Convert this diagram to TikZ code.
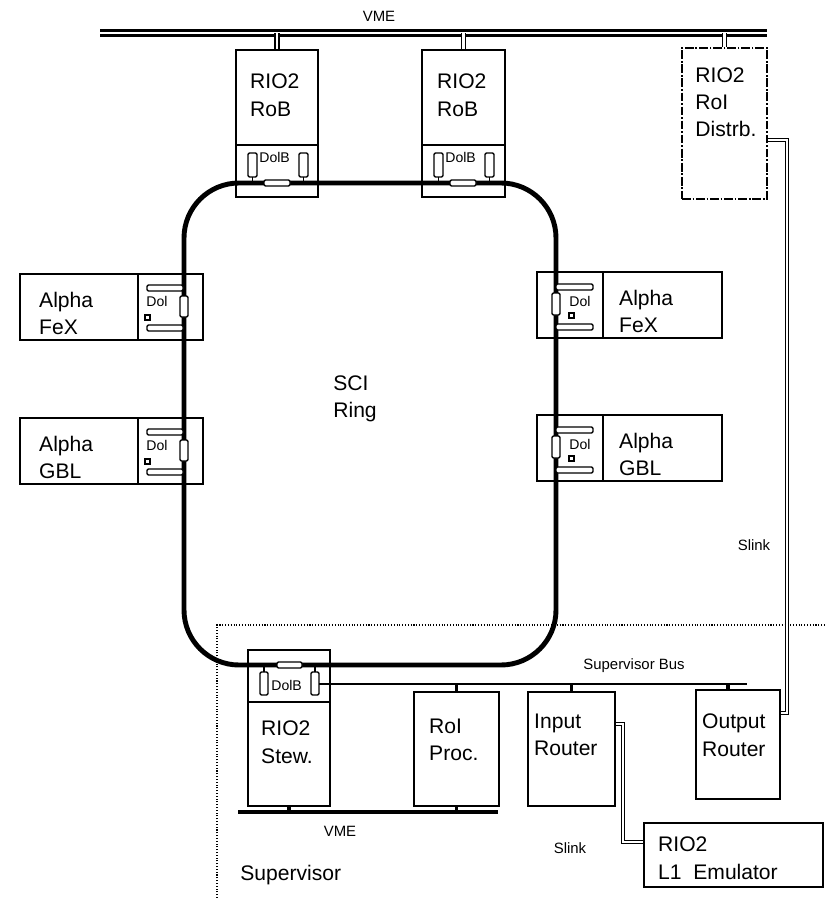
\documentclass[tikz,border=0pt]{standalone}
\usepackage{fontspec}
\setmainfont{Liberation Sans}

\begin{document}
\begin{tikzpicture}[x=0.02cm,y=-0.02cm,
  unit/.style={draw,line width=1.3pt,inner sep=0pt},
  tag/.style={anchor=north west,align=left,inner sep=0pt,font=\fontsize{12}{15.5}\selectfont},
  small/.style={inner sep=0pt,font=\fontsize{8.5}{10}\selectfont},
  tiny/.style={anchor=north west,inner sep=0pt,font=\fontsize{8}{9}\selectfont},
  ring/.style={line width=2.8pt,rounded corners=1.1cm},
  res/.style={draw,fill=white,line width=0.8pt,rounded corners=0.8pt},
  bus/.style={line width=1.3pt,double,double distance=1.6pt},
  tap/.style={line width=0.8pt,double,double distance=1.4pt},
  stub/.style={line width=2pt},
  slink/.style={line width=0.5pt,double,double distance=1.3pt},
  sbus/.style={line width=1.4pt}]
  \useasboundingbox (0,0) rectangle (826,898);

  % supervisor area
  \draw[densely dotted,line width=0.6pt] (217,898) -- (217,625) -- (826,625);

  % the SCI ring
  \draw[ring] (184,183) rectangle (556,665);
  \node[tag] (sci) at (333,375) {SCI\\Ring};

  % VME crate at the top
  \coordinate (vmeL) at (100,33);
  \coordinate (vmeR) at (767,33);
  \draw[bus] (vmeL) -- (vmeR);
  \node[small] (vmetop) at (379,16) {VME};

  \node[unit,minimum width=1.64cm,minimum height=1.9cm] (rob1) at (277,97.5) {};
  \node[unit,minimum width=1.64cm,minimum height=1.04cm] (rob1dol) at (277,171) {};
  \node[unit,minimum width=1.66cm,minimum height=1.9cm] (rob2) at (463.5,97.5) {};
  \node[unit,minimum width=1.66cm,minimum height=1.04cm] (rob2dol) at (463.5,171) {};
  \node[unit,dash pattern=on 5pt off 1pt on 1pt off 1pt,line width=1pt,
        minimum width=1.7cm,minimum height=3.02cm] (distrb) at (724.5,123.5) {};
  \node[tag] (rob1txt) at ([shift={(15,25)}]rob1.north west) {RIO2\\RoB};
  \node[tag] (rob2txt) at ([shift={(16,25)}]rob2.north west) {RIO2\\RoB};
  \node[tag] (distrbtxt) at ([shift={(14,20)}]distrb.north west) {RIO2\\RoI\\Distrb.};
  \draw[tap] (rob1.north) -- (rob1.north |- vmeL);
  \draw[tap] (rob2.north) -- (rob2.north |- vmeL);
  \draw[tap] (distrb.north) -- (distrb.north |- vmeL);

  % Alpha boxes
  \node[unit,minimum width=2.36cm,minimum height=1.32cm] (fexl) at (79,307) {};
  \node[unit,minimum width=1.3cm,minimum height=1.32cm] (fexldol) at (170.5,307) {};
  \node[unit,minimum width=2.36cm,minimum height=1.32cm] (gbll) at (79,451) {};
  \node[unit,minimum width=1.3cm,minimum height=1.32cm] (gblldol) at (170.5,451) {};
  \node[unit,minimum width=2.38cm,minimum height=1.32cm] (fexr) at (662.5,305) {};
  \node[unit,minimum width=1.32cm,minimum height=1.32cm] (fexrdol) at (570,305) {};
  \node[unit,minimum width=2.38cm,minimum height=1.32cm] (gblr) at (662.5,448) {};
  \node[unit,minimum width=1.32cm,minimum height=1.32cm] (gblrdol) at (570,448) {};
  \node[tag] (fexltxt) at ([shift={(20,19)}]fexl.north west) {Alpha\\FeX};
  \node[tag] (gblltxt) at ([shift={(20,19)}]gbll.north west) {Alpha\\GBL};
  \node[tag] (fexrtxt) at ([shift={(17,19)}]fexr.north west) {Alpha\\FeX};
  \node[tag] (gblrtxt) at ([shift={(17,19)}]gblr.north west) {Alpha\\GBL};

  % Dol interfaces, left side
  \foreach \dy in {0,144} {
    \draw[res] (147,285+\dy) rectangle (183,291+\dy);
    \draw[res] (147,325+\dy) rectangle (183,331+\dy);
    \draw[res] (180,296+\dy) rectangle (188,317+\dy);
    \draw[line width=0.6pt] (145,315+\dy) rectangle (150,320+\dy);
    \node[tiny] (doll\dy) at (146,296+\dy) {Dol};
  }
  % Dol interfaces, right side
  \foreach \dy in {0,143} {
    \draw[res] (556,284+\dy) rectangle (593,290+\dy);
    \draw[res] (556,324+\dy) rectangle (593,330+\dy);
    \draw[res] (552,293+\dy) rectangle (560,315+\dy);
    \draw[line width=0.6pt] (569,313+\dy) rectangle (574,318+\dy);
    \node[tiny] (dolr\dy) at (569,296+\dy) {Dol};
  }
  % DolB on the RoBs
  \foreach \dx in {0,186} {
    \draw[line width=0.8pt] (252.5+\dx,177) -- (252.5+\dx,183)
                            (303.5+\dx,177) -- (303.5+\dx,183);
    \draw[res] (248+\dx,153) rectangle (257+\dx,177);
    \draw[res] (299+\dx,153) rectangle (308+\dx,177);
    \draw[res] (264+\dx,180) rectangle (290+\dx,186);
    \node[tiny] (dolb\dx) at (259+\dx,152) {DolB};
  }

  % supervisor crate
  \node[unit,minimum width=1.64cm,minimum height=1.04cm] (stewdol) at (289,676) {};
  \node[unit,minimum width=1.64cm,minimum height=2.08cm] (stew) at (289,754) {};
  \node[unit,minimum width=1.7cm,minimum height=2.28cm] (proc) at (456.5,749) {};
  \node[unit,minimum width=1.74cm,minimum height=2.28cm] (inrt) at (571.5,749) {};
  \node[unit,minimum width=1.68cm,minimum height=2.18cm] (outrt) at (738,744.5) {};
  \node[unit,minimum width=3.58cm,minimum height=1.28cm] (emu) at (733.5,855) {};
  \node[tag] (stewtxt) at ([shift={(14,20)}]stew.north west) {RIO2\\Stew.};
  \node[tag] (proctxt) at ([shift={(16,28)}]proc.north west) {RoI\\Proc.};
  \node[tag] (inrttxt) at ([shift={(7,23)}]inrt.north west) {Input\\Router};
  \node[tag] (outrttxt) at ([shift={(7,25)}]outrt.north west) {Output\\Router};
  \node[tag] (emutxt) at ([shift={(15,15)}]emu.north west) {RIO2\\L1\ \ Emulator};

  \draw[line width=0.8pt] (264,665) -- (264,672) (315,665) -- (315,672);
  \draw[res] (277,662) rectangle (302,668);
  \draw[res] (260,672) rectangle (268,695);
  \draw[res] (311,672) rectangle (319,695);
  \node[tiny] (dolbsup) at (271,680) {DolB};

  % supervisor bus
  \coordinate (sbL) at (319,684);
  \coordinate (sbR) at (747,684);
  \draw[sbus] (sbL) -- (sbR);
  \node[small] (sbustxt) at (634,666) {Supervisor Bus};
  \draw[stub] (proc.north) -- (proc.north |- sbL);
  \draw[stub] (inrt.north) -- (inrt.north |- sbL);
  \draw[stub] ([xshift=-0.2cm]outrt.north) -- ([xshift=-0.2cm]outrt.north |- sbL);

  % VME in the supervisor
  \coordinate (vme2L) at (238,812);
  \coordinate (vme2R) at (498,812);
  \draw[line width=2.4pt] (vme2L) -- (vme2R);
  \draw[stub] (stew.south) -- (stew.south |- vme2L);
  \draw[stub] (proc.south) -- (proc.south |- vme2L);
  \node[small] (vmebot) at (340,831) {VME};

  % Slinks
  \coordinate (slinkA) at (787,140);
  \draw[slink] (slinkA -| distrb.east) -- (slinkA) |- (outrt.east |- 0,713);
  \node[small] (slinktop) at (754,545) {Slink};
  \coordinate (slinkB) at (623,724);
  \draw[slink] (slinkB -| inrt.east) -- (slinkB) |- (emu.west |- 0,842);
  \node[small] (slinkbot) at (570,848) {Slink};

  \node[anchor=west,inner sep=0pt,font=\fontsize{12}{14}\selectfont] (sup) at (240,875) {Supervisor};
\end{tikzpicture}
\end{document}
